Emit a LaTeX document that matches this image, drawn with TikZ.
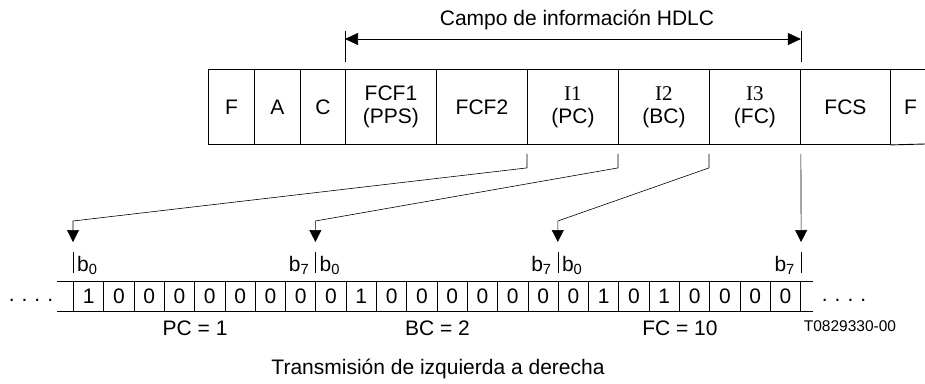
\documentclass[tikz,border=0pt]{standalone}
\usepackage{fontspec}
\setmainfont{Liberation Sans}
\newfontfamily\serifI{Liberation Serif}
\usetikzlibrary{arrows.meta,positioning}
\tikzset{
  cellbox/.style={draw, line width=0.9pt, inner sep=0pt, anchor=north west,
    minimum height=75pt, align=center, font=\fontsize{21}{23}\selectfont},
  bitbox/.style={draw, line width=0.9pt, inner sep=0pt, anchor=north west,
    minimum width=30.3pt, minimum height=30pt, font=\fontsize{21}{23}\selectfont},
  feed/.style={line width=0.6pt},
  tip/.style={-{Triangle[width=12pt,length=12pt]}},
  bitmark/.style={line width=0.6pt},
  txt/.style={font=\fontsize{21}{23}\selectfont, inner sep=0pt},
}
\begin{document}
\begin{tikzpicture}[x=1pt, y=-1pt]
  \useasboundingbox (0,0) rectangle (925,383);
  % trama HDLC
  \foreach \nm/\xl/\w/\lab in {fa/208/46/F, ad/254/46/A, ct/300/45/C,
      fcfa/345/91/{FCF1\\(PPS)}, fcfb/436/91/FCF2,
      ia/527/91/{{\serifI I1}\\(PC)}, ib/618/91/{{\serifI I2}\\(BC)},
      ic/709/91/{{\serifI I3}\\(FC)}, fcs/800/90/FCS}
    \node[cellbox, minimum width=\w pt] (\nm) at (\xl,69) {\lab};
  \node[cellbox, draw=none, minimum width=40pt] (fz) at (890,69) {F};
  \draw[line width=0.9pt] (fcs.north east) -- (925,69);
  \draw[line width=0.9pt] (fcs.south east) -- (925,144);
  % campo de informacion
  \draw[feed] ([yshift=7pt]fcfa.north west) -- ([yshift=38pt]fcfa.north west);
  \draw[feed] ([yshift=7pt]ic.north east) -- ([yshift=38pt]ic.north east);
  \draw[feed, {Triangle[width=12pt,length=13pt]}-{Triangle[width=12pt,length=13pt]}]
    ([yshift=30pt]fcfa.north west) -- ([yshift=30pt]ic.north east);
  \node[txt] (campo) at (577,20) {Campo de información HDLC};
  % bits
  \foreach \b [count=\i from 0] in {1,0,0,0,0,0,0,0,0,1,0,0,0,0,0,0,0,1,0,1,0,0,0,0}
    \node[bitbox] (bit\i) at ({73+30.3*\i},281) {\b};
  \draw[line width=0.9pt] (57,281) -- (813,281);
  \draw[line width=0.9pt] (57,311) -- (813,311);
  \node[txt, anchor=base] (dotsl) at (31,301) {.\hspace{7pt}.\hspace{7pt}.\hspace{7pt}.};
  \node[txt, anchor=base] (dotsr) at (844,301) {.\hspace{7pt}.\hspace{7pt}.\hspace{7pt}.};
  % marcas b0/b7
  \coordinate (ma) at (bit0.north west);
  \coordinate (mb) at (bit8.north west);
  \coordinate (mc) at (bit16.north west);
  \coordinate (md) at (bit23.north east);
  \foreach \m in {ma,mb,mc,md}
    \draw[bitmark] ([yshift=29pt]\m) -- ([yshift=8pt]\m);
  \foreach \m/\n in {ma/la,mb/lb,mc/lc}
    \node[txt, anchor=base west] (\n) at ([xshift=4pt,yshift=10pt]\m) {b\textsubscript{0}};
  \foreach \m/\n in {mb/rb,mc/rc,md/rd}
    \node[txt, anchor=base east] (\n) at ([xshift=-6pt,yshift=10pt]\m) {b\textsubscript{7}};
  % conexiones
  \draw[feed, tip] ([yshift=-9pt]ia.south west) -- ([yshift=-23pt]ia.south west)
    -- ([yshift=60pt]ma) -- ([yshift=39pt]ma);
  \draw[feed, tip] ([yshift=-9pt]ib.south west) -- ([yshift=-23pt]ib.south west)
    -- ([yshift=60pt]mb) -- ([yshift=39pt]mb);
  \draw[feed, tip] ([yshift=-9pt]ic.south west) -- ([yshift=-23pt]ic.south west)
    -- ([yshift=60pt]mc) -- ([yshift=39pt]mc);
  \draw[feed, tip] ([yshift=-9pt]ic.south east) -- ([yshift=39pt]md);
  % valores
  \node[txt, below=9pt of bit3.south east] (pc) {PC = 1};
  \node[txt, below=9pt of bit11.south east] (bc) {BC = 2};
  \node[txt, below=9pt of bit19.south east] (fc) {FC = 10};
  \node[font=\fontsize{15.5}{17}\selectfont, inner sep=0pt] (ref) at (850,326) {T0829330-00};
  \node[txt] (dir) at (438,369) {Transmisión de izquierda a derecha};
\end{tikzpicture}
\end{document}
